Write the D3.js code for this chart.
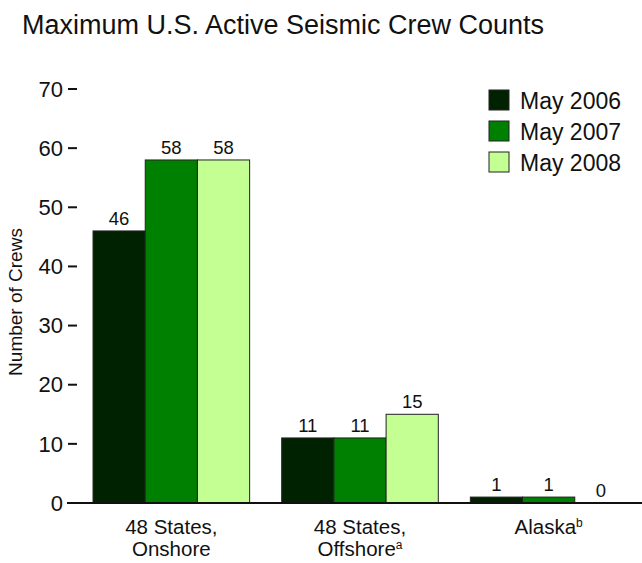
<!DOCTYPE html>
<html><head><meta charset="utf-8">
<script src="https://cdn.jsdelivr.net/npm/d3@7"></script>
<style>body{margin:0;background:#fff}svg{display:block;font-family:"Liberation Sans",Arial,sans-serif}</style>
</head><body><svg id="c" width="642" height="563"></svg>
<script>
const categories = ["48 States, Onshore", "48 States, Offshore", "Alaska"];
const catLine1 = ["48 States,", "48 States,", "Alaska"];
const catLine2 = ["Onshore", "Offshore", ""];
const catSup1 = ["", "", "b"];
const catSup2 = ["", "a", ""];
const seriesNames = ["May 2006", "May 2007", "May 2008"];
const seriesColors = ["#002200", "#008000", "#c4ff94"];
const may2006 = [46, 11, 1];
const may2007 = [58, 11, 1];
const may2008 = [58, 15, 0];
const yTicks = [0, 10, 20, 30, 40, 50, 60, 70];

const series = [may2006, may2007, may2008];
const svg = d3.select("#c");
const y = d3.scaleLinear().domain([0, 70]).range([503, 89]);
const x0 = d3.scaleBand().domain(categories).range([77, 643]).paddingInner(0.17).paddingOuter(0.085);
const x1 = d3.scaleBand().domain(seriesNames).range([0, x0.bandwidth()]);

svg.append("text").attr("x", 22).attr("y", 34).attr("font-size", 27).attr("fill", "#111")
  .text("Maximum U.S. Active Seismic Crew Counts");

// y ticks
const yg = svg.append("g");
yTicks.forEach(t => {
  yg.append("line").attr("x1", 68).attr("x2", 77).attr("y1", y(t)).attr("y2", y(t))
    .attr("stroke", "#111").attr("stroke-width", 2);
  yg.append("text").attr("x", 63).attr("y", y(t)).attr("dy", "0.35em").attr("text-anchor", "end")
    .attr("font-size", 22).attr("fill", "#111").text(t);
});
svg.append("text").attr("transform", "translate(22,302) rotate(-90)").attr("text-anchor", "middle")
  .attr("font-size", 19).attr("fill", "#111").text("Number of Crews");

// bars
categories.forEach((c, ci) => {
  const g = svg.append("g").attr("transform", `translate(${x0(c)},0)`);
  seriesNames.forEach((s, si) => {
    const v = series[si][ci];
    if (v > 0) {
      g.append("rect").attr("x", x1(s)).attr("y", y(v)).attr("width", x1.bandwidth())
        .attr("height", y(0) - y(v)).attr("fill", seriesColors[si]).attr("stroke", "#222").attr("stroke-width", 1);
    }
    g.append("text").attr("x", x1(s) + x1.bandwidth() / 2).attr("y", y(v) - 6).attr("text-anchor", "middle")
      .attr("font-size", 18.5).attr("fill", "#111").text(v);
  });
  const cx = x0(c) + x0.bandwidth() / 2;
  const t1 = svg.append("text").attr("x", cx).attr("y", 534).attr("text-anchor", "middle").attr("font-size", 20.5).attr("fill", "#111");
  t1.append("tspan").text(catLine1[ci]);
  if (catSup1[ci]) t1.append("tspan").attr("font-size", 12).attr("dy", -7).text(catSup1[ci]);
  if (catLine2[ci]) {
    const t2 = svg.append("text").attr("x", cx).attr("y", 556).attr("text-anchor", "middle").attr("font-size", 20.5).attr("fill", "#111");
    t2.append("tspan").text(catLine2[ci]);
    if (catSup2[ci]) t2.append("tspan").attr("font-size", 12).attr("dy", -7).text(catSup2[ci]);
  }
});

svg.append("line").attr("x1", 67).attr("x2", 642).attr("y1", y(0)).attr("y2", y(0)).attr("stroke", "#111").attr("stroke-width", 2);

// legend
seriesNames.forEach((s, i) => {
  svg.append("rect").attr("x", 489).attr("y", 90 + i * 31).attr("width", 20).attr("height", 20)
    .attr("fill", seriesColors[i]).attr("stroke", "#222").attr("stroke-width", 1);
  svg.append("text").attr("x", 520).attr("y", 101 + i * 31).attr("dy", "0.35em").attr("font-size", 23)
    .attr("fill", "#111").text(s);
});
</script></body></html>
